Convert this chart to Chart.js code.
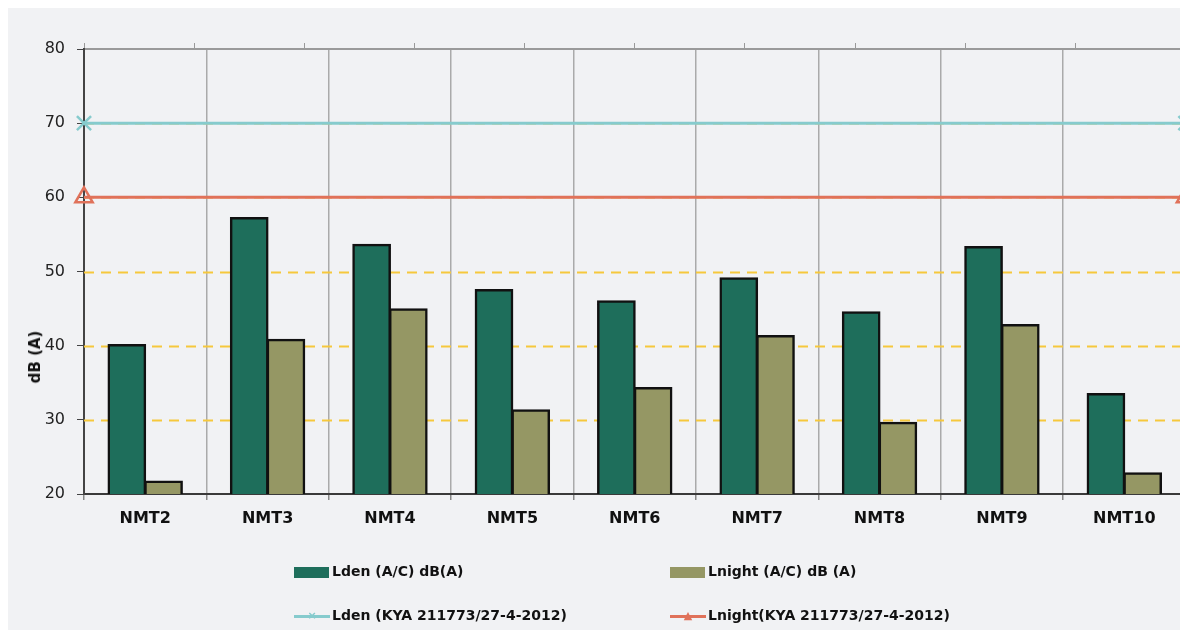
<!DOCTYPE html>
<html>
<head>
<meta charset="utf-8">
<script src="https://cdn.jsdelivr.net/npm/chart.js@4.4.1/dist/chart.umd.min.js"></script>
<style>
  html, body { margin: 0; padding: 0; background: #ffffff; overflow: hidden; }
  #panel { position: absolute; left: 8px; top: 8px; width: 1172px; height: 622px; background: #f1f2f4; }
  #wrap { position: absolute; left: 0; top: 0; width: 1198px; height: 630px; }
  #ylabel { position: absolute; left: 35px; top: 357px; transform: translate(-50%, -50%) rotate(-90deg);
            font: bold 15px "DejaVu Sans", Verdana, sans-serif; color: #111; white-space: nowrap; }
  .lg { position: absolute; font: bold 14px "DejaVu Sans", Verdana, sans-serif; color: #111; white-space: nowrap; }
  .box { position: absolute; width: 35px; height: 11px; }
  .ln { position: absolute; width: 36px; height: 3px; }
</style>
</head>
<body>
<div id="panel"></div>
<div id="wrap"><canvas id="c"></canvas></div>
<div id="ylabel">dB (A)</div>
<div id="legend"></div>
<script>
// Measurement points and their levels
const categories = ['NMT2', 'NMT3', 'NMT4', 'NMT5', 'NMT6', 'NMT7', 'NMT8', 'NMT9', 'NMT10'];
const lden   = [40.1, 57.2, 53.6, 47.5, 46.0, 49.1, 44.5, 53.3, 33.5];
const lnight = [21.7, 40.8, 44.9, 31.3, 34.3, 41.3, 29.6, 42.8, 22.8];

// Limit values (KYA 211773/27-4-2012)
const ldenLimit = 70;
const lnightLimit = 60;

// Y axis range and step
const yMin = 20, yMax = 80, yStep = 10;

const seriesNames = [
  'Lden (A/C) dB(A)',
  'Lnight (A/C) dB (A)',
  'Lden (KYA 211773/27-4-2012)',
  'Lnight(KYA 211773/27-4-2012)'
];

const GREEN = '#1e6e5b';
const OLIVE = '#959764';
const CYAN = '#86cbcd';
const RED = '#e0725a';

// all marks share one numeric x axis where category i sits at value i
const asPoints = (values) => values.map((v, i) => ({ x: i, y: v }));
const xLo = -0.5, xHi = categories.length - 0.5;
const limitLine = (value) => [{ x: xLo, y: value }, { x: xHi, y: value }];

// dashed horizontal guides drawn behind the bars
const dashedGuides = {
  id: 'dashedGuides',
  beforeDatasetsDraw(chart) {
    const { ctx, chartArea, scales } = chart;
    const y = scales.y;
    ctx.save();
    ctx.strokeStyle = '#f6c83c';
    ctx.lineWidth = 2;
    ctx.setLineDash([10, 7]);
    y.ticks.forEach(t => {
      if (t.value <= yMin || t.value >= yMax) return;
      const py = Math.round(y.getPixelForValue(t.value)) + 0.5;
      ctx.beginPath();
      ctx.moveTo(chartArea.left, py);
      ctx.lineTo(chartArea.right, py);
      ctx.stroke();
    });
    ctx.restore();
  }
};

const barStyle = {
  xAxisID: 'xv', borderColor: '#111', borderWidth: 2.5, borderSkipped: 'bottom',
  inflateAmount: 1, categoryPercentage: 0.6, barPercentage: 1.0, order: 2
};

new Chart(document.getElementById('c'), {
  type: 'bar',
  data: {
    labels: categories,
    datasets: [
      Object.assign({ label: seriesNames[0], data: asPoints(lden), backgroundColor: GREEN }, barStyle),
      Object.assign({ label: seriesNames[1], data: asPoints(lnight), backgroundColor: OLIVE }, barStyle),
      {
        type: 'line', label: seriesNames[2], data: limitLine(ldenLimit), xAxisID: 'xv',
        borderColor: CYAN, borderWidth: 3, pointStyle: 'crossRot', pointRadius: 10,
        pointBorderColor: CYAN, pointBorderWidth: 2.5, pointBackgroundColor: 'rgba(0,0,0,0)',
        clip: false, order: 1
      },
      {
        type: 'line', label: seriesNames[3], data: limitLine(lnightLimit), xAxisID: 'xv',
        borderColor: RED, borderWidth: 3, pointStyle: 'triangle', pointRadius: 10,
        pointBorderColor: RED, pointBorderWidth: 2.5, pointBackgroundColor: 'rgba(0,0,0,0)',
        clip: false, order: 1
      }
    ]
  },
  options: {
    responsive: true,
    maintainAspectRatio: false,
    animation: false,
    layout: { padding: { left: 0, right: 5, top: 0, bottom: 0 } },
    plugins: { legend: { display: false }, tooltip: { enabled: false } },
    scales: {
      x: {
        type: 'category', position: 'bottom', offset: true,
        grid: { color: '#aaaaaa', lineWidth: 1.5, tickLength: 6, tickColor: '#888', offset: true },
        border: { color: '#3a3a3a', width: 2 },
        ticks: { color: '#111', padding: 9, font: { family: 'DejaVu Sans', size: 16, weight: 'bold' } },
        afterFit(s) { s.height = 136; }
      },
      xv: {
        type: 'linear', display: false, min: xLo, max: xHi, offset: false,
        ticks: { stepSize: 1 },
        afterBuildTicks(s) { s.ticks = s.ticks.filter(t => Number.isInteger(t.value)); }
      },
      x2: {
        type: 'linear', position: 'top', min: 0, max: categories.length + 1, offset: false,
        grid: { drawOnChartArea: false, tickLength: 6, color: '#999', offset: false },
        border: { color: '#9a9a9a', width: 2 },
        ticks: { stepSize: 1, display: false },
        afterFit(s) { s.height = 49; }
      },
      y: {
        min: yMin, max: yMax, stacked: false,
        grid: { drawOnChartArea: false, tickLength: 7, tickColor: '#444' },
        border: { color: '#444', width: 2 },
        ticks: { stepSize: yStep, color: '#222', padding: 12, font: { family: 'DejaVu Sans', size: 16 } },
        afterFit(s) { s.width = 84; }
      }
    }
  },
  plugins: [dashedGuides]
});

// legend laid out in two aligned columns
const legend = document.getElementById('legend');
const items = [
  { name: seriesNames[0], kind: 'box', color: GREEN, left: 294, cy: 572 },
  { name: seriesNames[1], kind: 'box', color: OLIVE, left: 670, cy: 572 },
  { name: seriesNames[2], kind: 'line', color: CYAN, mark: '×', left: 294, cy: 616 },
  { name: seriesNames[3], kind: 'line', color: RED, mark: '▲', left: 670, cy: 616 }
];
items.forEach(it => {
  const sw = document.createElement('div');
  if (it.kind === 'box') {
    sw.className = 'box';
    sw.style.left = it.left + 'px';
    sw.style.top = (it.cy - 5.5) + 'px';
    sw.style.background = it.color;
  } else {
    sw.className = 'ln';
    sw.style.left = it.left + 'px';
    sw.style.top = (it.cy - 1.5) + 'px';
    sw.style.background = it.color;
    const m = document.createElement('div');
    m.style.cssText = 'position:absolute;left:12px;top:-6px;width:12px;text-align:center;font:bold 11px "DejaVu Sans";line-height:14px;color:' + it.color;
    m.textContent = it.mark;
    sw.appendChild(m);
  }
  legend.appendChild(sw);
  const t = document.createElement('div');
  t.className = 'lg';
  t.style.left = (it.left + 38) + 'px';
  t.style.top = (it.cy - 9) + 'px';
  t.textContent = it.name;
  legend.appendChild(t);
});
</script>
</body>
</html>
